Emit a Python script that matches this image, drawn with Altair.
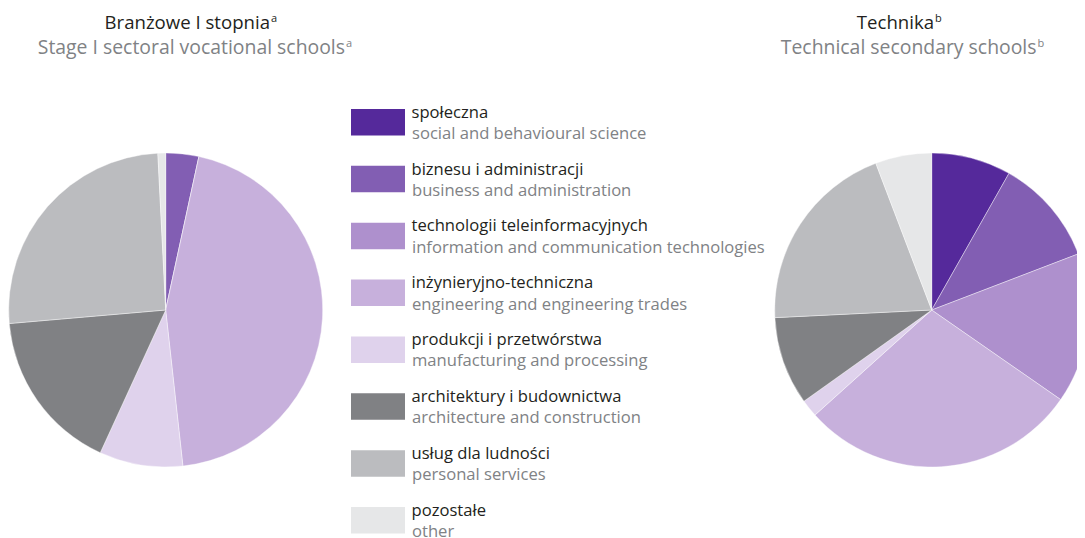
import altair as alt
import pandas as pd

# ---- data ----
cats_pl = ["społeczna", "biznesu i administracji", "technologii teleinformacyjnych",
           "inżynieryjno-techniczna", "produkcji i przetwórstwa", "architektury i budownictwa",
           "usług dla ludności", "pozostałe"]
cats_en = ["social and behavioural science", "business and administration",
           "information and communication technologies", "engineering and engineering trades",
           "manufacturing and processing", "architecture and construction",
           "personal services", "other"]
colors = ["#55299B", "#825EB3", "#AE90CD", "#C7B0DC", "#DFD2EC", "#808184", "#BBBCBF", "#E6E7E8"]
left_values = [0.0, 3.4, 0.0, 44.9, 8.6, 16.8, 25.6, 0.8]
right_values = [8.2, 11.0, 15.5, 28.7, 1.8, 9.1, 20.0, 5.8]
titles_pl = ["Branżowe I stopnia", "Technika"]
titles_en = ["Stage I sectoral vocational schools", "Technical secondary schools"]
title_marks = ["a", "b"]

FONT = "Open Sans"
BLACK = "#231F20"
GRAY = "#808285"

idx = list(range(len(cats_pl)))
df_left = pd.DataFrame({"idx": idx, "pl": cats_pl, "en": cats_en, "value": left_values})
df_right = pd.DataFrame({"idx": idx, "pl": cats_pl, "en": cats_en, "value": right_values})
df_leg = pd.DataFrame({"idx": idx, "pl": cats_pl, "en": cats_en})

color_enc = alt.Color("pl:N", scale=alt.Scale(domain=cats_pl, range=colors), legend=None)


def pie(df, cx, cy):
    return alt.Chart(df).mark_arc(radius=157, stroke="white", strokeWidth=0.4).encode(
        theta=alt.Theta("value:Q", stack=True),
        color=color_enc,
        order=alt.Order("idx:Q"),
        x=alt.value(cx),
        y=alt.value(cy),
    )


left_pie = pie(df_left, 157.7, 302)
right_pie = pie(df_right, 923.7, 302)

y_enc = alt.Y("idx:O", scale=alt.Scale(range=[101, 525.5], paddingInner=0.535, paddingOuter=0),
              axis=None)

LEG_FS = 16.6
leg_rect = alt.Chart(df_leg).mark_rect().encode(
    y=y_enc, x=alt.value(343), x2=alt.value(397), color=color_enc
)
leg_pl = alt.Chart(df_leg).mark_text(
    align="left", baseline="alphabetic", dy=-4.5, fontSize=LEG_FS, font=FONT, color=BLACK
).encode(y=y_enc, x=alt.value(403.5), text="pl:N")
leg_en = alt.Chart(df_leg).mark_text(
    align="left", baseline="alphabetic", dy=16.8, fontSize=LEG_FS, font=FONT, color=GRAY
).encode(y=y_enc, x=alt.value(404), text="en:N")


def title_text(txt, sup, right_x, cy, col, fs):
    # main text right-aligned, superscript letter just after it
    main = alt.Chart(df_leg).transform_filter("datum.idx == 0").mark_text(
        align="right", baseline="alphabetic", fontSize=fs, font=FONT, color=col, text=txt
    ).encode(x=alt.value(right_x), y=alt.value(cy))
    mark = alt.Chart(df_leg).transform_filter("datum.idx == 0").mark_text(
        align="left", baseline="alphabetic", fontSize=11, font=FONT, color=col, text=sup,
        dx=1, dy=-7
    ).encode(x=alt.value(right_x), y=alt.value(cy))
    return [main, mark]


L1, L2 = 21.0, 45.5
titles = (
    title_text(titles_pl[0], title_marks[0], 262, L1, BLACK, 18.6)
    + title_text(titles_en[0], title_marks[0], 337, L2, GRAY, 19.4)
    + title_text(titles_pl[1], title_marks[1], 926, L1, BLACK, 18.6)
    + title_text(titles_en[1], title_marks[1], 1028.5, L2, GRAY, 19.4)
)

chart = alt.layer(left_pie, right_pie, leg_rect, leg_pl, leg_en, *titles).resolve_scale(
    theta="independent"
).properties(
    width=1069, height=530, padding=0, autosize=alt.AutoSizeParams(type="none")
).configure_view(stroke=None)

chart.save("out.html", embed_options={"renderer": "svg", "actions": False})
